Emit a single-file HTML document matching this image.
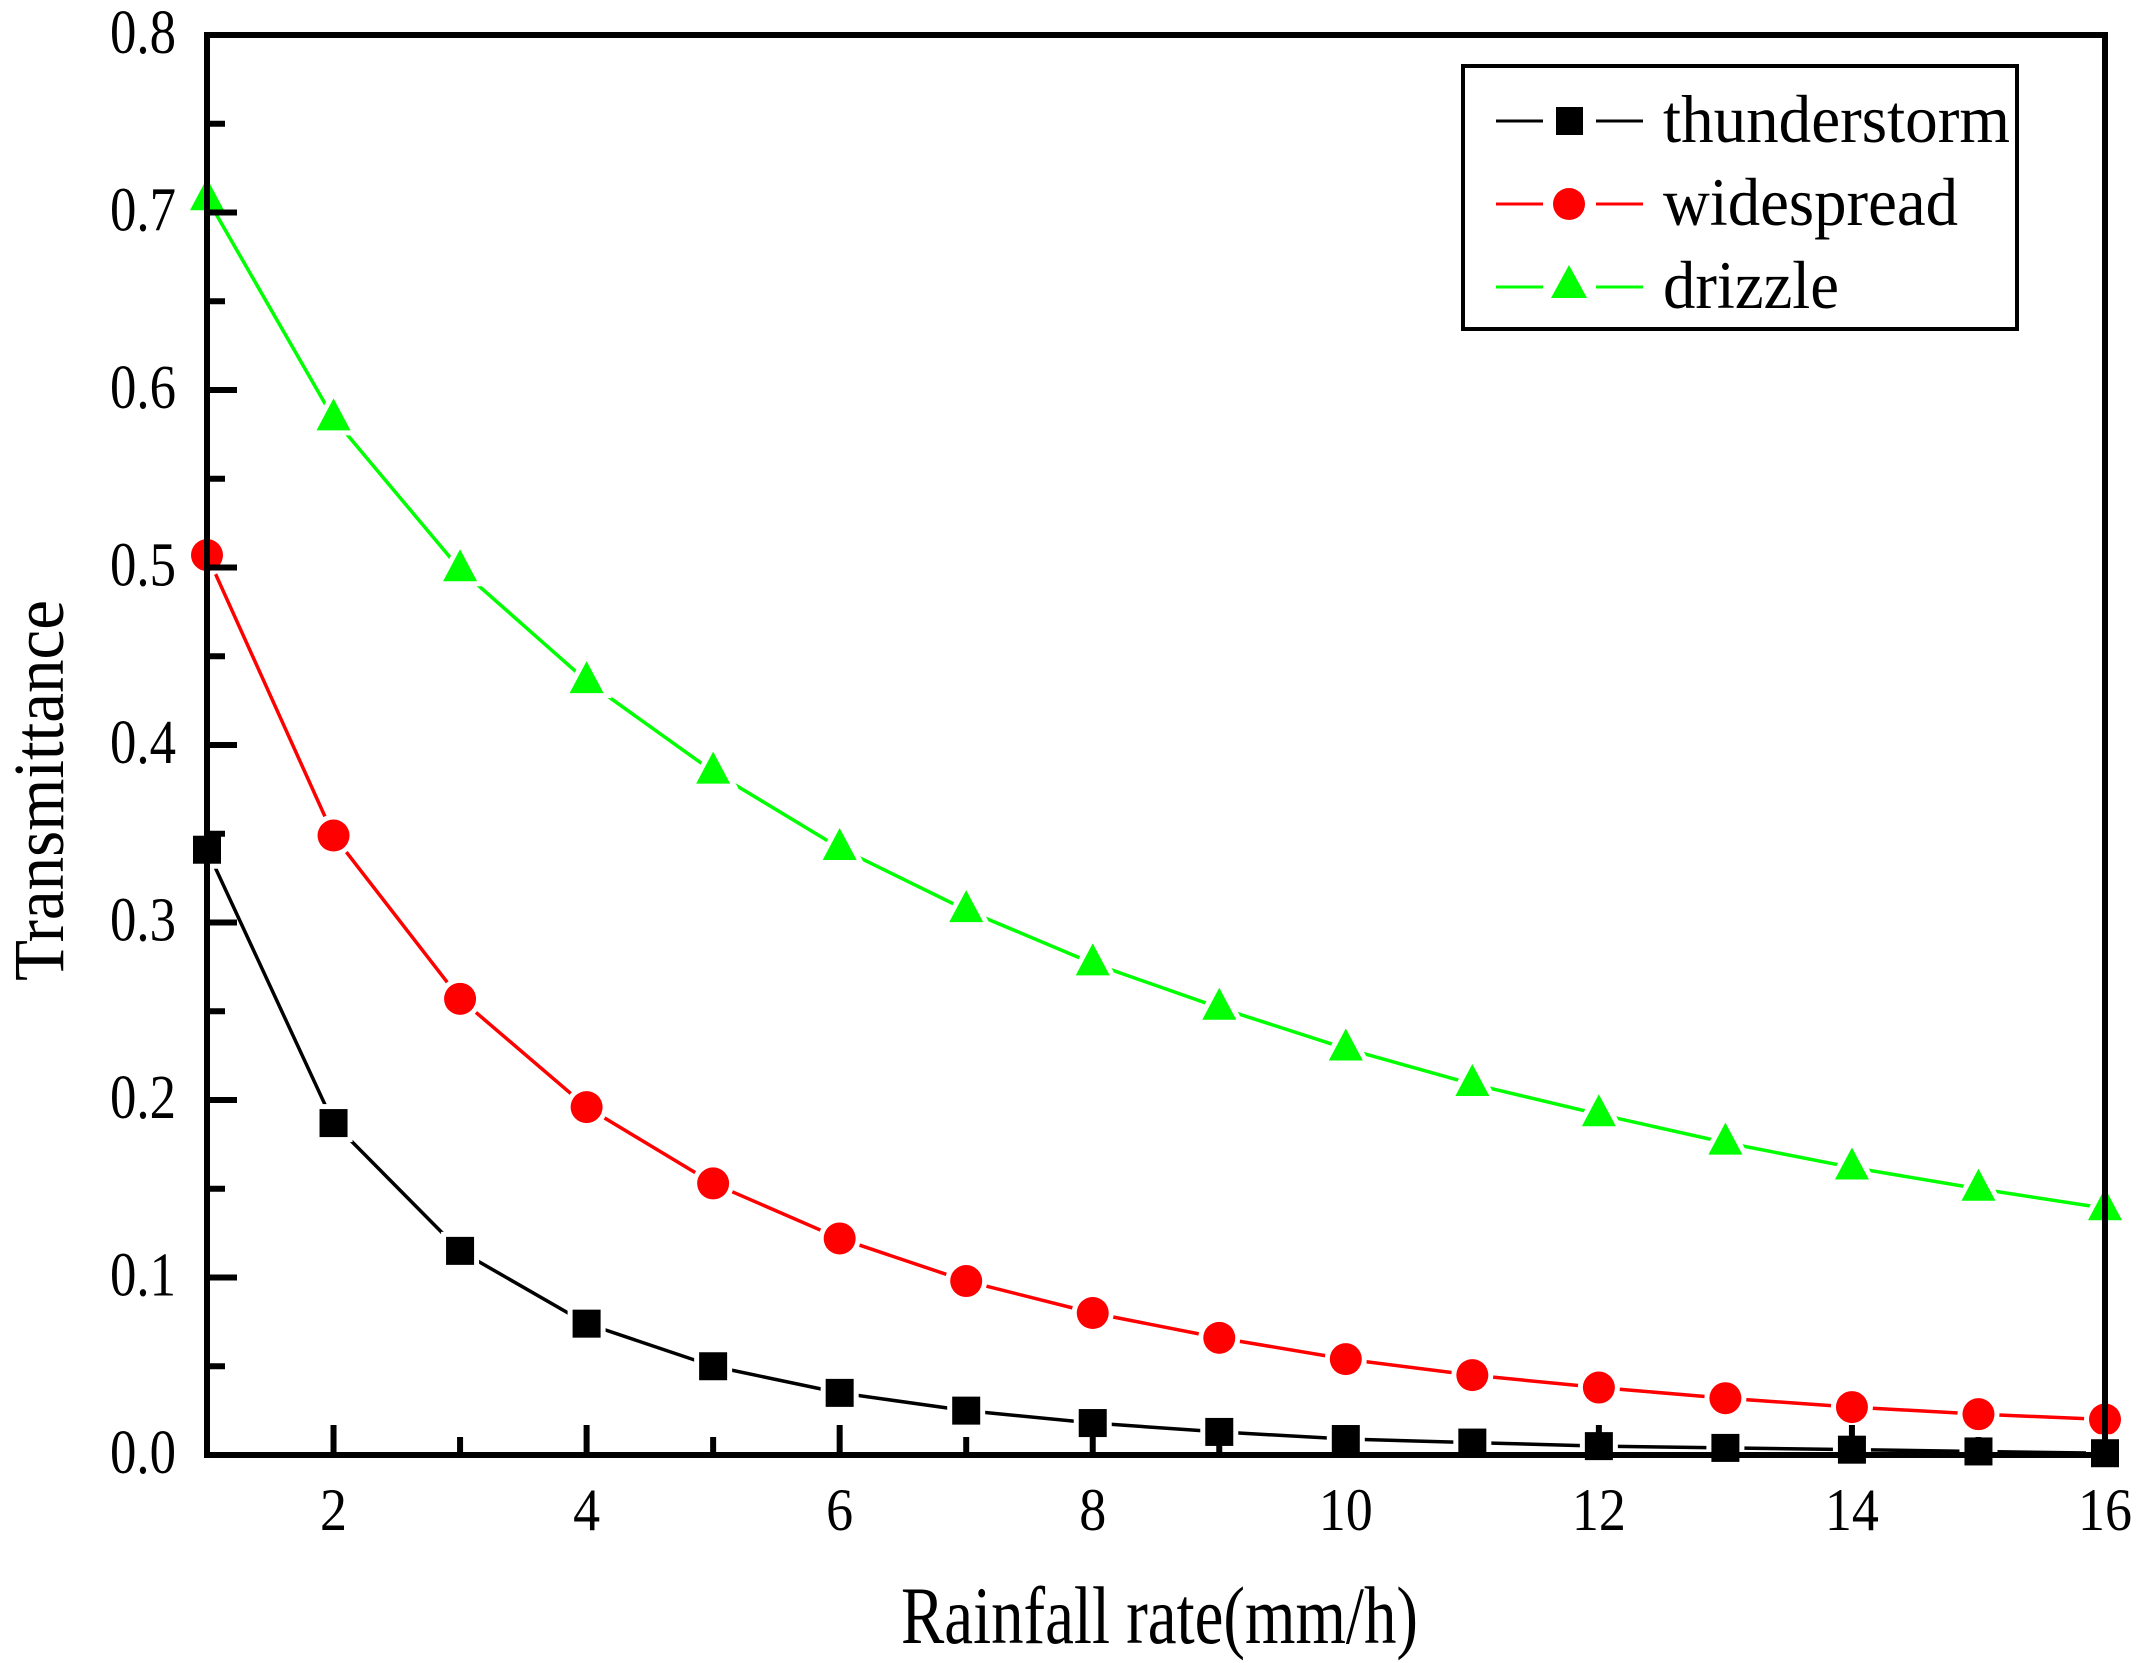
<!DOCTYPE html>
<html><head><meta charset="utf-8"><style>
html,body{margin:0;padding:0;background:#fff;}
svg{display:block;font-family:"Liberation Serif",serif;}
</style></head><body>
<svg id="chart" width="2145" height="1663" viewBox="0 0 2145 1663" xmlns="http://www.w3.org/2000/svg">
<rect x="0" y="0" width="2145" height="1663" fill="#fff"/>
<g id="series-layer"></g>
<g id="axis-layer"></g>
<rect x="207" y="35" width="1898" height="1420" fill="none" stroke="#000" stroke-width="6"/>
<text x="901" y="1643" font-size="82" textLength="517" lengthAdjust="spacingAndGlyphs">Rainfall rate(mm/h)</text>
<text transform="translate(63,981) rotate(-90)" x="0" y="0" font-size="72" textLength="381" lengthAdjust="spacingAndGlyphs">Transmittance</text>
<g>
<rect x="1463" y="66" width="554" height="263" fill="#fff" stroke="#000" stroke-width="4"/>
<g>
<line x1="1496" y1="121" x2="1543" y2="121" stroke="#000" stroke-width="3"/>
<line x1="1596" y1="121" x2="1643" y2="121" stroke="#000" stroke-width="3"/>
<rect x="1556" y="107" width="27" height="28" fill="#000"/>
<text x="1663" y="142" font-size="68" textLength="347" lengthAdjust="spacingAndGlyphs">thunderstorm</text>
</g>
<g>
<line x1="1496" y1="204" x2="1543" y2="204" stroke="#f00" stroke-width="3"/>
<line x1="1596" y1="204" x2="1643" y2="204" stroke="#f00" stroke-width="3"/>
<circle cx="1569" cy="204" r="16" fill="#f00"/>
<text x="1663" y="225" font-size="68" textLength="295" lengthAdjust="spacingAndGlyphs">widespread</text>
</g>
<g>
<line x1="1496" y1="287" x2="1543" y2="287" stroke="#0f0" stroke-width="3"/>
<line x1="1596" y1="287" x2="1643" y2="287" stroke="#0f0" stroke-width="3"/>
<polygon points="1569,265 1587,298 1551,298" fill="#0f0"/>
<text x="1663" y="308" font-size="68" textLength="176" lengthAdjust="spacingAndGlyphs">drizzle</text>
</g>
</g>
</svg>
<script>
const rainRates = [1,2,3,4,5,6,7,8,9,10,11,12,13,14,15,16];
const thunderstorm = [0.341,0.187,0.115,0.074,0.050,0.035,0.025,0.018,0.013,0.009,0.007,0.005,0.004,0.003,0.002,0.001];
const widespread = [0.507,0.349,0.257,0.196,0.153,0.122,0.098,0.080,0.066,0.054,0.045,0.038,0.032,0.027,0.023,0.020];
const drizzle = [0.708,0.584,0.499,0.436,0.385,0.342,0.307,0.277,0.252,0.229,0.209,0.192,0.176,0.162,0.150,0.139];
const yTickLabels = ["0.0","0.1","0.2","0.3","0.4","0.5","0.6","0.7","0.8"];
const xTickLabels = ["2","4","6","8","10","12","14","16"];

const NS = "http://www.w3.org/2000/svg";
const X0 = 207, X1 = 2105, Y0 = 1455, Y1 = 35;
const xMin = 1, xMax = 16, yMin = 0, yMax = 0.8;
function xs(v){ return X0 + (v - xMin) / (xMax - xMin) * (X1 - X0); }
function ys(v){ return Y0 - (v - yMin) / (yMax - yMin) * (Y0 - Y1); }
function mk(tag, attrs, parent){
  const e = document.createElementNS(NS, tag);
  for (const k in attrs) e.setAttribute(k, attrs[k]);
  parent.appendChild(e);
  return e;
}
const axis = document.getElementById('axis-layer');
const ser = document.getElementById('series-layer');

for (let i = 0; i < yTickLabels.length; i++) {
  const v = parseFloat(yTickLabels[i]);
  const y = ys(v);
  const t = mk('line', {x1: X0, y1: y, x2: X0 + 30, y2: y, stroke: '#000', 'stroke-width': 6}, axis);
  
  
  if (i < yTickLabels.length - 1) {
    const ym = ys(v + 0.05);
    const m = mk('line', {x1: X0, y1: ym, x2: X0 + 18, y2: ym, stroke: '#000', 'stroke-width': 6}, axis);
    
    
  }
  const lb = mk('text', {x: 176, y: y + 18, 'font-size': 62, 'text-anchor': 'end', textLength: 66, lengthAdjust: 'spacingAndGlyphs'}, axis);
  lb.textContent = yTickLabels[i];
  
  
}
for (let v = 1; v <= 16; v++) {
  const x = xs(v);
  const major = v % 2 === 0;
  const t = mk('line', {x1: x, y1: Y0, x2: x, y2: Y0 - (major ? 30 : 18), stroke: '#000', 'stroke-width': 6}, axis);
  
  
}
for (let i = 0; i < xTickLabels.length; i++) {
  const s = xTickLabels[i];
  const x = xs(parseFloat(s));
  const lb = mk('text', {x: x, y: 1530, 'font-size': 60, 'text-anchor': 'middle', textLength: s.length * 27, lengthAdjust: 'spacingAndGlyphs'}, axis);
  lb.textContent = s;
  
  
}

function drawSeries(vals, color, shape, name) {
  const g = mk('g', {}, ser);
  
  
  const pts = rainRates.map((r, i) => xs(r) + ',' + ys(vals[i])).join(' ');
  const pl = mk('polyline', {points: pts, fill: 'none', stroke: color, 'stroke-width': 3.5, 'stroke-linejoin': 'round'}, g);
  
  
  rainRates.forEach((r, i) => {
    const cx = xs(r), cy = ys(vals[i]);
    let m;
    const common = {fill: color, stroke: '#fff', 'stroke-width': 10, 'paint-order': 'stroke'};
    if (shape === 'square') {
      m = mk('rect', Object.assign({x: cx - 14, y: cy - 14, width: 28, height: 28}, common), g);
    } else if (shape === 'circle') {
      m = mk('circle', Object.assign({cx: cx, cy: cy, r: 16}, common), g);
    } else {
      m = mk('polygon', Object.assign({points: (cx) + ',' + (cy - 20) + ' ' + (cx + 17) + ',' + (cy + 12) + ' ' + (cx - 17) + ',' + (cy + 12)}, common), g);
    }
    
    
  });
}
drawSeries(drizzle, '#00ff00', 'triangle', 'drizzle');
drawSeries(widespread, '#ff0000', 'circle', 'widespread');
drawSeries(thunderstorm, '#000000', 'square', 'thunderstorm');
</script>
</body></html>
